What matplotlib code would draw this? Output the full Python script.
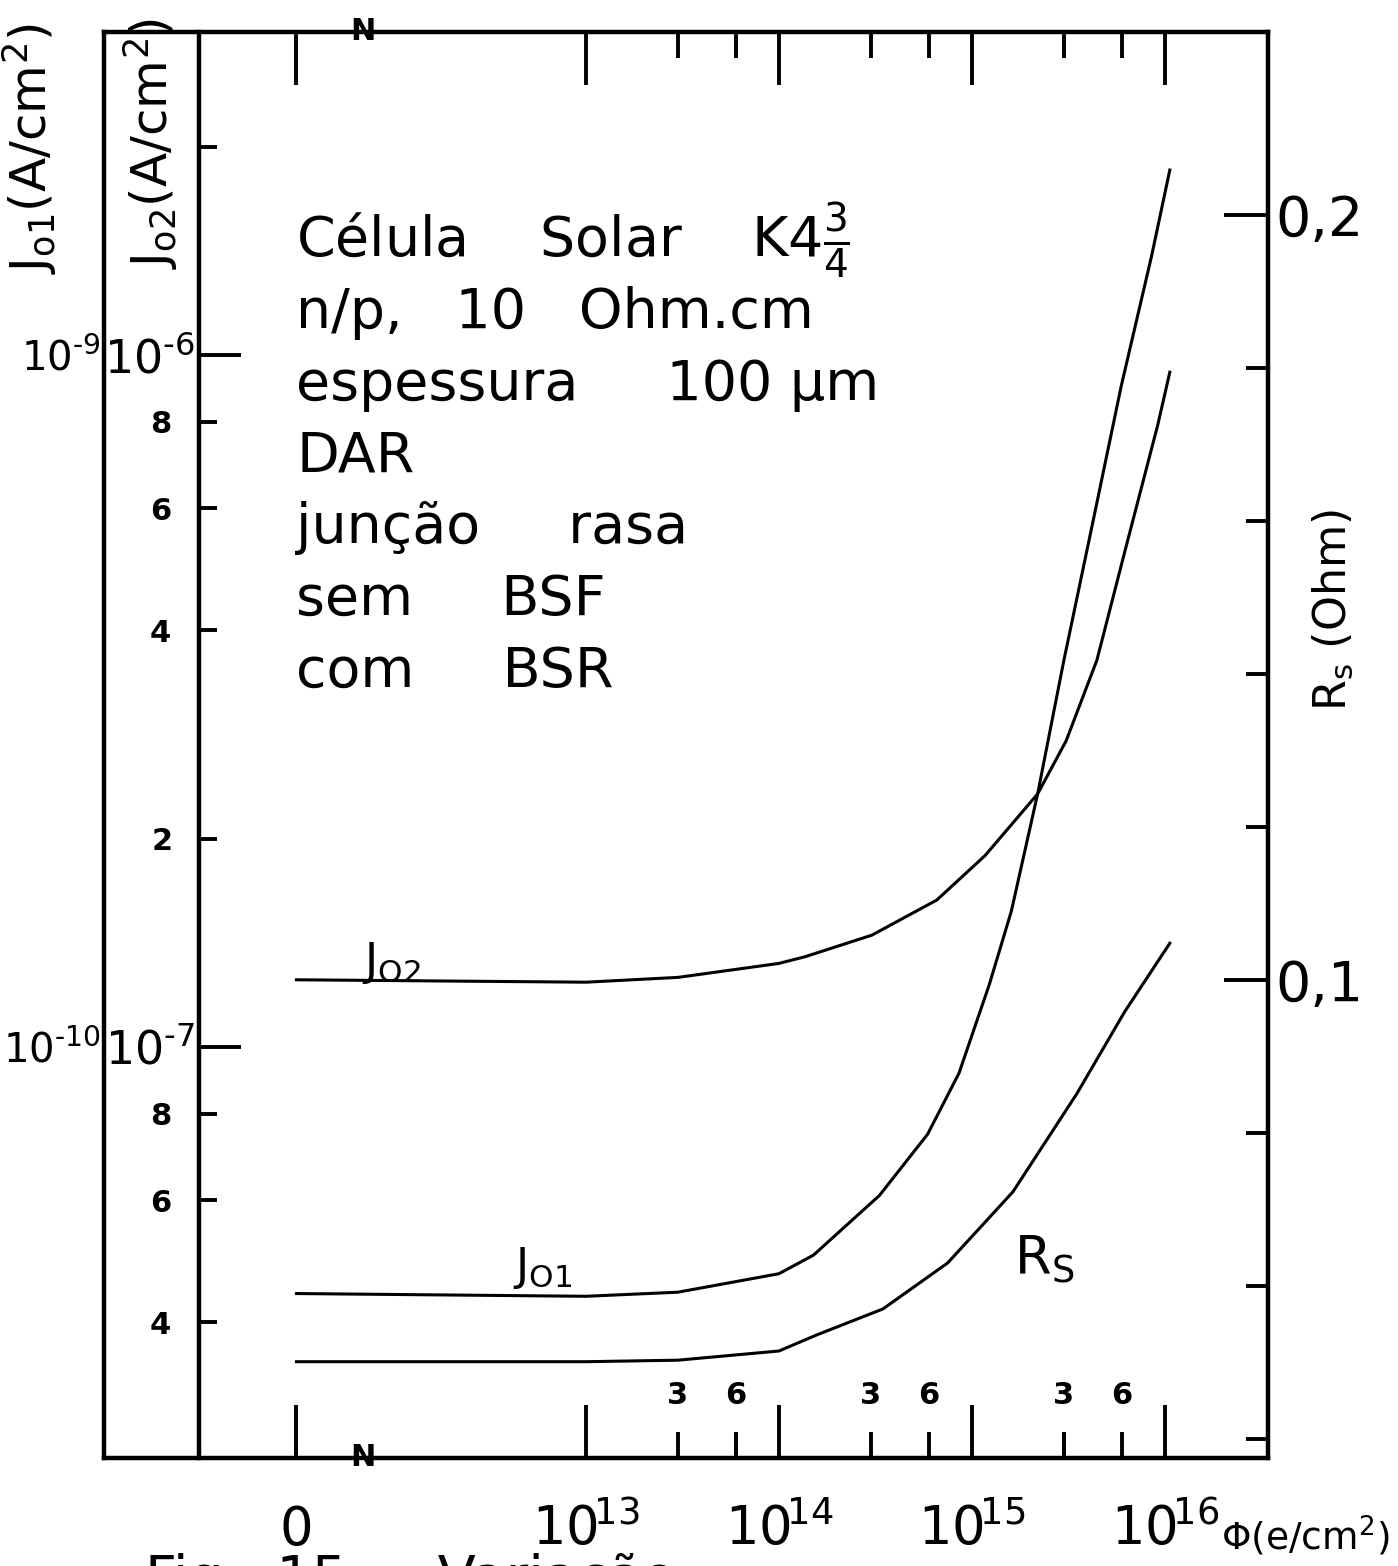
import numpy as np
import matplotlib
matplotlib.use("Agg")
import matplotlib.pyplot as plt

plt.rcParams["font.family"] = "DejaVu Sans"
plt.rcParams["mathtext.fontset"] = "dejavusans"

# fluence (e/cm2) and the three curves
phi_j01 = [0, 1e13, 3e13, 1e14, 1.51e14, 3.32e14, 5.90e14, 8.57e14, 1.23e15,
           1.60e15, 2.19e15, 2.99e15, 4.22e15, 5.94e15, 8.53e15, 1.06e16]
j01 = [4.40e-11, 4.36e-11, 4.42e-11, 4.70e-11, 5.00e-11, 6.10e-11, 7.48e-11,
       9.16e-11, 1.23e-10, 1.57e-10, 2.32e-10, 3.61e-10, 5.71e-10, 9.02e-10,
       1.39e-9, 1.85e-9]

phi_j02 = [0, 1e13, 3e13, 1e14, 1.37e14, 3.03e14, 6.58e14, 1.17e15, 2.19e15,
           3.08e15, 4.44e15, 6.31e15, 9.18e15, 1.06e16]
j02 = [1.25e-7, 1.24e-7, 1.26e-7, 1.32e-7, 1.35e-7, 1.45e-7, 1.63e-7, 1.89e-7,
       2.32e-7, 2.77e-7, 3.62e-7, 5.30e-7, 7.92e-7, 9.44e-7]

phi_rs = [0, 1e13, 3e13, 1e14, 1.57e14, 3.46e14, 7.48e14, 1.63e15, 3.49e15,
          6.17e15, 1.06e16]
rs = [0.0501, 0.0501, 0.0503, 0.0515, 0.0536, 0.0570, 0.0630, 0.0723, 0.0851,
      0.0958, 0.1048]

# tick positions / labels
phi_major = [0, 1e13, 1e14, 1e15, 1e16]
phi_major_labels = ["0", r"$10^{\!13}$", r"$10^{\!14}$", r"$10^{\!15}$",
                    r"$10^{\!16}$"]
phi_minor = [3e13, 6e13, 3e14, 6e14, 3e15, 6e15]
phi_minor_labels = ["3", "6", "3", "6", "3", "6"]

j02_major = [1e-7, 1e-6]
j02_major_labels = [r"$10^{\text{-}7}$", r"$10^{\text{-}6}$"]
j02_minor = [4e-8, 6e-8, 8e-8, 2e-7, 4e-7, 6e-7, 8e-7, 2e-6]
j02_minor_labels = [r"$\mathbf{4}$", r"$\mathbf{6}$", r"$\mathbf{8}$", r"$\mathbf{2}$",
                    r"$\mathbf{4}$", r"$\mathbf{6}$", r"$\mathbf{8}$", ""]

j01_major = [1e-10, 1e-9]
j01_major_labels = [r"$10^{\text{-}10}$", r"$10^{\text{-}9}$"]

rs_major = [0.1, 0.2]
rs_major_labels = ["0,1", "0,2"]
rs_minor = [0.04, 0.06, 0.08, 0.12, 0.14, 0.16, 0.18]

info_lines = [
    r"Célula    Solar    K4$\frac{3}{4}$",
    "n/p,   10   Ohm.cm",
    "espessura     100 µm",
    "DAR",
    "junção     rasa",
    "sem     BSF",
    "com     BSR",
]

# Phi = 0 sits half a decade left of 1e13 (broken axis)
ZERO_AT = 11.5


def fwd(phi):
    phi = np.asarray(phi, dtype=float)
    safe = np.where(phi > 0, phi, 1.0)
    return np.where(phi > 0, np.log10(safe), ZERO_AT)


def inv(u):
    return 10.0 ** np.asarray(u, dtype=float)


fig = plt.figure(figsize=(13.98, 15.66), dpi=100)
ax = fig.add_axes([0.0744, 0.0690, 0.8326, 0.9106])
ax.set_xscale("function", functions=(fwd, inv))
ax.set_yscale("log")

ax1 = ax.twinx()   # J01 scale, outer left line
ax2 = ax.twinx()   # Rs scale, right line
ax1.set_yscale("log")

lw_frame = 3.2
for s in ax.spines.values():
    s.set_linewidth(lw_frame)
ax.spines["left"].set_position(("axes", 0.0816))
ax.spines["right"].set_visible(False)
for name in ("right", "top", "bottom"):
    ax1.spines[name].set_visible(False)
ax1.spines["left"].set_linewidth(lw_frame)
for name in ("left", "top", "bottom"):
    ax2.spines[name].set_visible(False)
ax2.spines["right"].set_linewidth(lw_frame)

# curves
ax.plot(phi_j02, j02, color="black", lw=2.2)
ax1.plot(phi_j01, j01, color="black", lw=2.2)
ax2.plot(phi_rs, rs, color="black", lw=2.2)

# x axis
ax.set_xticks(phi_major, labels=phi_major_labels)
ax.set_xticks(phi_minor, minor=True)
ax.tick_params(axis="x", which="both", direction="in", top=True, bottom=True,
               width=2.8, labeltop=False)
ax.tick_params(axis="x", which="major", length=38, labelsize=38, pad=63)
ax.tick_params(axis="x", which="minor", length=19)
for lab in ax.get_xticklabels():
    lab.set_verticalalignment("baseline")

# J02 axis (inner left line)
ax.set_yticks(j02_major, labels=j02_major_labels)
ax.set_yticks(j02_minor, labels=j02_minor_labels, minor=True)
ax.tick_params(axis="y", which="both", direction="in", left=True, right=False,
               width=2.8)
ax.tick_params(axis="y", which="major", length=30, labelsize=33, pad=3)
ax.tick_params(axis="y", which="minor", length=13, labelsize=22, pad=20)

# J01 axis (outer left line), labels only
ax1.yaxis.tick_left()
ax1.set_yticks(j01_major, labels=j01_major_labels)
ax1.set_yticks([], minor=True)
ax1.tick_params(axis="y", which="major", length=0, labelsize=29, pad=2)

# Rs axis
ax2.set_yticks(rs_major, labels=rs_major_labels)
ax2.set_yticks(rs_minor, minor=True)
ax2.tick_params(axis="y", which="both", direction="in", right=True, left=False,
                width=2.8)
ax2.tick_params(axis="y", which="major", length=32, labelsize=40, pad=5)
ax2.tick_params(axis="y", which="minor", length=16)

# limits go last: set_xticks would widen them to take in Phi = 0
ax.set_xlim(10 ** 10.503, 10 ** 16.534)
ax.set_ylim(2.546e-8, 2.929e-6)
lo, hi = ax.get_ylim()
ax1.set_ylim(lo * 1e-3, hi * 1e-3)
ax2.set_ylim(0.03752, 0.22392)

for p, t in zip(phi_minor, phi_minor_labels):
    ax.text(p, 0.038, t, transform=ax.get_xaxis_transform(), ha="center",
            va="baseline", fontsize=22, fontweight="bold")

# axis titles
ax.text(-0.064, 1.006, r"J$_{\rm o1}$(A/cm$^{\rm 2}$)", transform=ax.transAxes,
        rotation=90, ha="center", va="top", fontsize=36)
ax.text(0.040, 1.010, r"J$_{\rm o2}$(A/cm$^{\rm 2}$)", transform=ax.transAxes,
        rotation=90, ha="center", va="top", fontsize=36)
ax.text(1.056, 0.595, r"R$_{\rm s}$ (Ohm)", transform=ax.transAxes,
        rotation=90, ha="center", va="center", fontsize=32)
ax.text((1221 - 104) / 1164, -0.0645, r"Φ(e/cm$^{\rm 2}$)", transform=ax.transAxes,
        ha="left", va="baseline", fontsize=27)

# axis break marks
for yy in (0.0, 1.0):
    ax.text(7e11, yy, "N", transform=ax.get_xaxis_transform(), ha="center",
            va="center", fontsize=22, fontweight="bold")

# curve labels
ax.text(6.9e11, 1.27e-7, r"J$_{\rm O2}$", fontsize=32, ha="left", va="baseline")
ax1.text(4.2e12, 4.6e-11, r"J$_{\rm O1}$", fontsize=32, ha="left", va="baseline")
ax2.text(1.66e15, 0.0614, r"R$_{\rm S}$", fontsize=38, ha="left", va="baseline")

# cell description
for i, line in enumerate(info_lines):
    yb = 256 + 71.8 * i
    ax.text(0.165, (1458 - yb) / 1426, line, transform=ax.transAxes,
            ha="left", va="baseline", fontsize=40)

fig.text(145 / 1398, 1 - 1553 / 1566, "Fig.  15  -  Variação",
         ha="left", va="top", fontsize=40)

fig.savefig("out.png", dpi=100)
